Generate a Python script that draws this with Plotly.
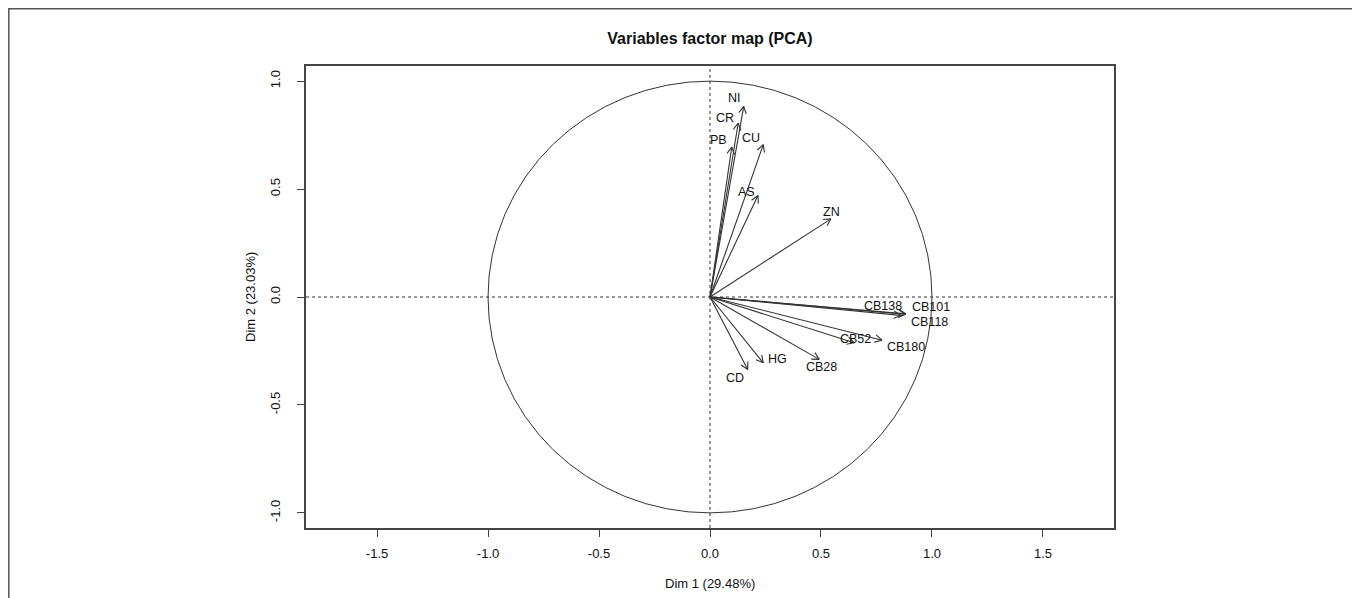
import math
import plotly.graph_objects as go

# ---- data ----
variables = ["NI", "CR", "PB", "CU", "AS", "ZN", "CB101", "CB118", "CB138",
             "CB52", "CB180", "CB28", "HG", "CD"]
dim1 = [0.152, 0.127, 0.098, 0.240, 0.216, 0.545, 0.883, 0.880, 0.860,
        0.650, 0.775, 0.492, 0.240, 0.170]
dim2 = [0.883, 0.806, 0.695, 0.706, 0.470, 0.362, -0.078, -0.080, -0.085,
        -0.212, -0.200, -0.289, -0.305, -0.336]
x_ticks = [-1.5, -1.0, -0.5, 0.0, 0.5, 1.0, 1.5]
y_ticks = [-1.0, -0.5, 0.0, 0.5, 1.0]
x_title = "Dim 1 (29.48%)"
y_title = "Dim 2 (23.03%)"
chart_title = "Variables factor map (PCA)"

# ---- style / layout (not data) ----
label_offsets = {  # pixel shifts of each label from its arrow tip (right, up)
    "NI": (-9, 8), "CR": (-13, 5), "PB": (-13, 7), "CU": (-12, 7),
    "AS": (-11, 4), "ZN": (1, 7), "CB101": (25, 7), "CB118": (24, -8),
    "CB138": (-18, 9), "CB52": (1, 4), "CB180": (24, -7), "CB28": (2, -8),
    "HG": (14, 4), "CD": (-13, -8),
}
# the page body adds an 8px offset, so the figure is 8px smaller
W, H = 1352, 590
ML, MR, MT, MB = 298, 246, 58, 70
XR = [-1.82, 1.82]
YR = [-1.07, 1.07]
FONT = "Liberation Sans, Arial, sans-serif"
AX_COL = "#444444"
ARROW_COL = "#333333"

plot_w = W - ML - MR
plot_h = H - MT - MB
sx = plot_w / (XR[1] - XR[0])
sy = plot_h / (YR[1] - YR[0])

# arrows: shaft + open V head computed in pixel space, converted to data
head_len = 8.0
head_ang = math.radians(28)
ax_x, ax_y = [], []
for x, y in zip(dim1, dim2):
    ax_x += [0, x, None]
    ax_y += [0, y, None]
    px, py = x * sx, y * sy
    n = math.hypot(px, py)
    dx, dy = px / n, py / n
    for s in (1, -1):
        c, si = math.cos(s * head_ang), math.sin(s * head_ang)
        rx = dx * c - dy * si
        ry = dx * si + dy * c
        hx = (px - head_len * rx) / sx
        hy = (py - head_len * ry) / sy
        ax_x += [hx, x, None]
        ax_y += [hy, y, None]

fig = go.Figure()
fig.add_trace(go.Scatter(x=ax_x, y=ax_y, mode="lines",
                         line=dict(color=ARROW_COL, width=1.1),
                         hoverinfo="skip", showlegend=False))

annotations = []
for name, x, y in zip(variables, dim1, dim2):
    ox, oy = label_offsets.get(name, (0, 6))
    annotations.append(dict(x=x, y=y, xref="x", yref="y", text=name,
                            showarrow=False, xshift=ox, yshift=oy,
                            font=dict(family=FONT, size=12.5, color="#111111"),
                            xanchor="center", yanchor="middle"))

# axis titles (pixel positions converted to paper coordinates)
annotations.append(dict(x=0.5, xref="paper", y=-(575 - (H - MB)) / plot_h,
                        yref="paper", text=x_title, showarrow=False,
                        xanchor="center", yanchor="middle",
                        font=dict(family=FONT, size=13, color="#111111")))
annotations.append(dict(x=-(ML - 242) / plot_w, xref="paper", y=0.5, yref="paper",
                        text=y_title, showarrow=False, textangle=-90,
                        xanchor="center", yanchor="middle",
                        font=dict(family=FONT, size=13, color="#111111")))

shapes = [
    dict(type="circle", xref="x", yref="y", x0=-1, y0=-1, x1=1, y1=1,
         line=dict(color="#333333", width=1)),
    dict(type="line", xref="x", yref="paper", x0=0, x1=0, y0=0, y1=1,
         line=dict(color="#333333", width=1, dash="3px,3px")),
    dict(type="line", xref="paper", yref="y", x0=0, x1=1, y0=0, y1=0,
         line=dict(color="#333333", width=1, dash="3px,3px")),
    # outer frame of the figure
    dict(type="rect", xref="paper", yref="paper",
         x0=(0.8 - ML) / plot_w, x1=(1347 - ML) / plot_w,
         y0=-(640 - (H - MB)) / plot_h, y1=((H - MB) - 0.8) / plot_h,
         line=dict(color="#555555", width=1.5)),
]

fig.update_layout(
    width=W, height=H,
    margin=dict(l=ML, r=MR, t=MT, b=MB),
    paper_bgcolor="white", plot_bgcolor="white",
    title=dict(text="<b>" + chart_title + "</b>", x=0.5, xref="paper",
               xanchor="center", y=1 - 30 / H, yanchor="middle",
               font=dict(family=FONT, size=16, color="#111111")),
    annotations=annotations, shapes=shapes, showlegend=False,
)
fig.update_xaxes(range=XR, tickvals=x_ticks, ticktext=[f"{v:.1f}" for v in x_ticks],
                 showgrid=False, zeroline=False, showline=True, mirror=True,
                 linecolor=AX_COL, linewidth=1.5, ticks="outside", ticklen=7,
                 tickcolor=AX_COL, tickwidth=1.2, ticklabelstandoff=6,
                 tickfont=dict(family=FONT, size=13, color="#111111"))
fig.update_yaxes(range=YR, tickvals=y_ticks, ticktext=[f"{v:.1f}" for v in y_ticks],
                 showgrid=False, zeroline=False, showline=True, mirror=True,
                 linecolor=AX_COL, linewidth=1.5, ticks="outside", ticklen=7,
                 tickcolor=AX_COL, tickwidth=1.2, tickangle=-90, ticklabelstandoff=12,
                 tickfont=dict(family=FONT, size=13, color="#111111"))

fig.write_html("out.html")
